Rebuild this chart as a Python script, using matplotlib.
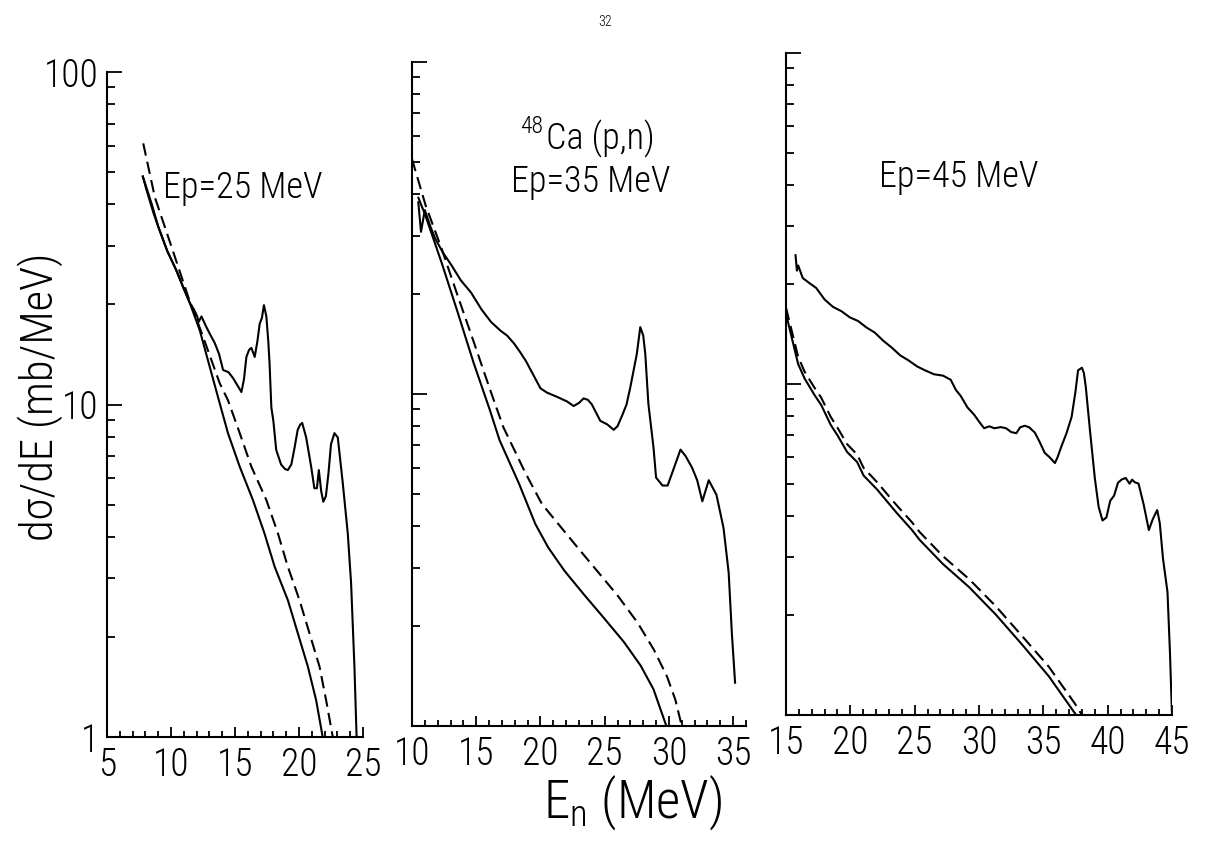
import matplotlib
matplotlib.use('Agg')
import matplotlib.pyplot as plt
from matplotlib import font_manager
from matplotlib.ticker import MultipleLocator, LogLocator, NullFormatter, FixedLocator, FixedFormatter

names = {f.name for f in font_manager.fontManager.ttflist}
FONT = 'Liberation Sans'
for cand in ['Liberation Sans Narrow', 'Roboto Condensed', 'Open Sans Condensed', 'Noto Sans Condensed']:
    if cand in names:
        FONT = cand
        break
NARROW = FONT != 'Liberation Sans'
k = 1.0 if NARROW else 0.88
plt.rcParams['font.family'] = [FONT, 'DejaVu Sans']
plt.rcParams['font.weight'] = 'light'
plt.rcParams['mathtext.fontset'] = 'custom'
plt.rcParams['mathtext.rm'] = FONT + ':light'
plt.rcParams['mathtext.it'] = FONT + ':light'
plt.rcParams['mathtext.bf'] = FONT

# ---------------- data ----------------
# Ep = 25 MeV
exp25_E = [7.8, 8.1, 8.6, 9.0, 9.7, 10.4, 11.0, 11.47, 11.8, 12.05, 12.15, 12.38, 12.7, 13.0,
           13.42, 13.75, 14.07, 14.5, 14.85, 15.2, 15.5, 15.7, 15.89, 16.1, 16.28, 16.54, 16.75,
           16.93, 17.1, 17.26, 17.45, 17.6, 17.7, 17.84, 18.0, 18.22, 18.6, 18.9, 19.13, 19.4,
           19.65, 19.9, 20.1, 20.25, 20.56, 20.95, 21.2, 21.4, 21.55, 21.73, 21.9, 22.1, 22.3,
           22.5, 22.77, 23.03, 23.42, 23.81, 24.07, 24.33, 24.5]
exp25_V = [48.5, 44, 38, 34.3, 29, 25.4, 22.3, 20.2, 19.3, 18.4, 17.7, 18.4, 17.3, 16.4,
           15.3, 14.2, 12.7, 12.5, 12.0, 11.4, 10.9, 11.9, 13.9, 14.6, 14.8, 13.9, 15.5,
           17.5, 18.2, 19.9, 18.4, 15.5, 13.3, 9.8, 8.9, 7.3, 6.6, 6.4, 6.35, 6.6,
           7.4, 8.4, 8.7, 8.8, 7.96, 6.5, 5.6, 5.6, 6.35, 5.5, 5.1, 5.3, 6.2,
           7.6, 8.2, 7.96, 5.8, 4.1, 2.9, 1.63, 1.0]
sol25_E = [7.8, 8.5, 9.0, 9.7, 10.4, 11.0, 11.47, 12.25, 13.68, 14.45, 15.37, 16.4, 17.3,
           18.1, 19.13, 19.91, 20.69, 21.34, 21.85]
sol25_V = [48.5, 40, 34.3, 29, 25.4, 22.3, 20.2, 16.7, 10.5, 8.2, 6.5, 5.16, 4.1,
           3.25, 2.58, 2.05, 1.63, 1.29, 1.0]
dash25_E = [7.83, 8.74, 10.04, 11.34, 12.5, 13.8, 14.45, 15.37, 16.28, 17.45, 18.35, 19.13,
            20.04, 20.82, 21.6, 22.12, 22.64]
dash25_V = [61, 42, 29.8, 21.1, 16, 11.6, 10.3, 8.2, 6.5, 5.16, 4.1, 3.25,
            2.58, 2.05, 1.63, 1.29, 1.0]

# Ep = 35 MeV
exp35_E = [10.49, 10.7, 11.0, 11.4, 11.8, 12.4, 13.08, 13.8, 14.6, 15.4, 16.14, 16.9, 17.4,
           17.94, 18.4, 18.85, 19.4, 20.0, 20.5, 21.3, 22.06, 22.58, 23.0, 23.36, 23.7, 24.0,
           24.66, 25.2, 25.7, 26.0, 26.35, 26.7, 27.0, 27.5, 27.77, 28.0, 28.16, 28.4, 28.8,
           29.0, 29.5, 29.9, 30.4, 30.9, 31.3, 31.8, 32.2, 32.6, 33.1, 33.7, 34.25, 34.65,
           34.9, 35.15]
exp35_V = [37.8, 30.8, 35.8, 32.2, 29.4, 26.7, 24.4, 22.0, 20.2, 18.0, 16.5, 15.5, 15.0,
           14.2, 13.4, 12.6, 11.5, 10.4, 10.1, 9.8, 9.5, 9.2, 9.4, 9.7, 9.6, 9.3,
           8.3, 8.1, 7.8, 8.0, 8.6, 9.3, 10.5, 13.2, 15.9, 15.0, 13.2, 9.35, 6.9,
           5.6, 5.3, 5.3, 6.0, 6.8, 6.5, 6.0, 5.5, 4.75, 5.5, 4.97, 3.95, 2.9,
           1.9, 1.35]
sol35_E = [10.5, 11.04, 12.3, 13.56, 14.8, 16.06, 16.81, 18.33, 19.6, 20.6, 21.88, 23.42,
           24.96, 26.5, 27.8, 28.8, 29.8]
sol35_V = [39, 34.5, 24.9, 17.6, 12.4, 8.95, 7.27, 5.37, 4.06, 3.45, 2.93, 2.48,
           2.11, 1.79, 1.52, 1.29, 1.0]
dash35_E = [10.0, 11.06, 12.32, 13.57, 14.82, 16.08, 17.1, 18.86, 20.12, 21.41, 22.94, 24.48,
            26.01, 27.55, 28.82, 29.85, 30.5, 31.0]
dash35_V = [51, 37, 27.3, 19.7, 14.3, 10.3, 7.96, 5.75, 4.66, 4.05, 3.43, 2.91,
            2.47, 2.05, 1.70, 1.41, 1.20, 1.0]

# Ep = 45 MeV
exp45_E = [15.74, 15.85, 15.95, 16.3, 16.8, 17.35, 18.0, 18.65, 19.3, 19.96, 20.6, 21.27,
           21.9, 22.57, 23.2, 23.88, 24.5, 25.19, 25.8, 26.5, 27.2, 27.8, 28.2, 28.58,
           29.1, 29.63, 30.0, 30.4, 30.8, 31.2, 31.7, 32.1, 32.5, 32.9, 33.2, 33.56,
           33.9, 34.34, 34.7, 35.1, 35.5, 35.9, 36.1, 36.4, 36.8, 37.2, 37.5, 37.7,
           38.0, 38.15, 38.3, 38.6, 39.0, 39.3, 39.6, 39.9, 40.2, 40.5, 40.8, 41.1,
           41.4, 41.7, 41.9, 42.1, 42.4, 42.8, 43.2, 43.5, 43.85, 44.05, 44.3, 44.65,
           44.84, 45.0]
exp45_V = [24.5, 22.0, 22.8, 20.9, 20.2, 19.5, 18.0, 17.1, 16.6, 15.9, 15.5, 14.8,
           14.3, 13.5, 12.9, 12.2, 11.8, 11.3, 11.0, 10.7, 10.6, 10.3, 9.6, 9.2,
           8.5, 8.07, 7.7, 7.35, 7.45, 7.35, 7.41, 7.35, 7.16, 7.1, 7.4, 7.48,
           7.4, 7.13, 6.7, 6.2, 6.0, 5.77, 6.0, 6.47, 7.1, 7.96, 9.5, 11.0,
           11.2, 10.8, 9.8, 7.4, 5.2, 4.25, 3.87, 3.95, 4.44, 4.6, 5.03, 5.15,
           5.2, 5.0, 5.14, 5.05, 5.0, 4.32, 3.62, 3.9, 4.16, 3.8, 2.97, 2.35,
           1.55, 1.0]
sol45_E = [15.0, 15.94, 16.44, 17.21, 17.73, 18.48, 19.0, 19.75, 20.53, 21.03, 22.06, 23.6,
           24.77, 25.39, 27.19, 29.25, 31.31, 33.36, 35.42, 37.47]
sol45_V = [16.3, 11.5, 10.4, 9.27, 8.65, 7.52, 7.0, 6.23, 5.81, 5.29, 4.81, 4.08,
           3.63, 3.38, 2.86, 2.43, 2.01, 1.63, 1.31, 1.01]
dash45_E = [15.0, 15.94, 16.44, 17.21, 17.73, 18.48, 19.0, 19.75, 20.53, 21.03, 22.06, 23.6,
            24.77, 25.39, 27.19, 29.25, 31.31, 33.36, 35.42, 37.47, 38.0]
dash45_V = [17.0, 12.1, 10.9, 9.75, 9.1, 7.95, 7.38, 6.58, 6.12, 5.58, 5.06, 4.3,
            3.83, 3.57, 3.02, 2.57, 2.13, 1.73, 1.40, 1.08, 1.0]

x_limits = [(5, 25), (10, 36), (15, 45)]
panel_labels = ['Ep=25 MeV', 'Ep=35 MeV', 'Ep=45 MeV']

# ---------------- figure ----------------
W, H = 1210, 844
fig = plt.figure(figsize=(W / 100, H / 100), dpi=100)
fig.patch.set_facecolor('white')

def rect(l, r, t, b):
    return [l / W, 1 - b / H, (r - l) / W, (b - t) / H]

rects = [rect(107, 363, 72, 737), rect(412, 746, 62, 726), rect(786, 1172, 53, 715)]
series = [
    (exp25_E, exp25_V, sol25_E, sol25_V, dash25_E, dash25_V),
    (exp35_E, exp35_V, sol35_E, sol35_V, dash35_E, dash35_V),
    (exp45_E, exp45_V, sol45_E, sol45_V, dash45_E, dash45_V),
]

LW = 1.5
TICK_FS = 27 * k
for i, (r, s, xl) in enumerate(zip(rects, series, x_limits)):
    ax = fig.add_axes(r)
    eE, eV, sE, sV, dE, dV = s
    ax.plot(eE, eV, color='black', lw=LW, solid_joinstyle='round')
    ax.plot(sE, sV, color='black', lw=LW)
    ax.plot(dE, dV, color='black', lw=LW, ls=(0, (6, 3)))
    ax.set_yscale('log')
    ax.set_ylim(1, 100)
    ax.set_xlim(*xl)
    for sp in ('top', 'right'):
        ax.spines[sp].set_visible(False)
    for sp in ('left', 'bottom'):
        ax.spines[sp].set_linewidth(1.5)
    ax.xaxis.set_major_locator(MultipleLocator(5))
    ax.xaxis.set_minor_locator(MultipleLocator(1))
    ax.yaxis.set_major_locator(FixedLocator([1, 10, 100]))
    ax.yaxis.set_minor_locator(LogLocator(base=10, subs=range(2, 10), numticks=10))
    ax.yaxis.set_minor_formatter(NullFormatter())
    ax.tick_params(axis='both', which='both', direction='in', width=1.3, colors='black')
    ax.tick_params(axis='y', which='major', length=11, pad=6, labelsize=TICK_FS)
    ax.tick_params(axis='y', which='minor', length=6)
    ax.tick_params(axis='x', which='major', length=7, pad=7, labelsize=TICK_FS)
    ax.tick_params(axis='x', which='minor', length=4)
    if i == 0:
        ax.yaxis.set_major_formatter(FixedFormatter(['1', '10', '100']))
    else:
        ax.tick_params(axis='y', which='both', labelleft=False)
    ax.patch.set_alpha(0)

# panel texts
LAB_FS = 26 * k
fig.text(243 / W, 1 - 198 / H, panel_labels[0], ha='center', va='baseline', fontsize=LAB_FS)
fig.text(591 / W, 1 - 192 / H, panel_labels[1], ha='center', va='baseline', fontsize=LAB_FS)
fig.text(959 / W, 1 - 187 / H, panel_labels[2], ha='center', va='baseline', fontsize=LAB_FS)
fig.text(546 / W, 1 - 149 / H, 'Ca (p,n)', ha='left', va='baseline', fontsize=LAB_FS)
fig.text(543 / W, 1 - 133 / H, '48', ha='right', va='baseline', fontsize=17 * k)

fig.text(605 / W, 1 - 22 / H, '32', ha='center', va='center', fontsize=10)
fig.text(40 / W, 1 - 397 / H, 'dσ/dE (mb/MeV)', rotation=90, ha='center', va='center',
         fontsize=29 * k + 3)
fig.text(633 / W, 1 - 803 / H, r'E$_{\mathrm{n}}$ (MeV)', ha='center', va='center',
         fontsize=38 * k)

fig.savefig('out.png', dpi=100, facecolor='white')
